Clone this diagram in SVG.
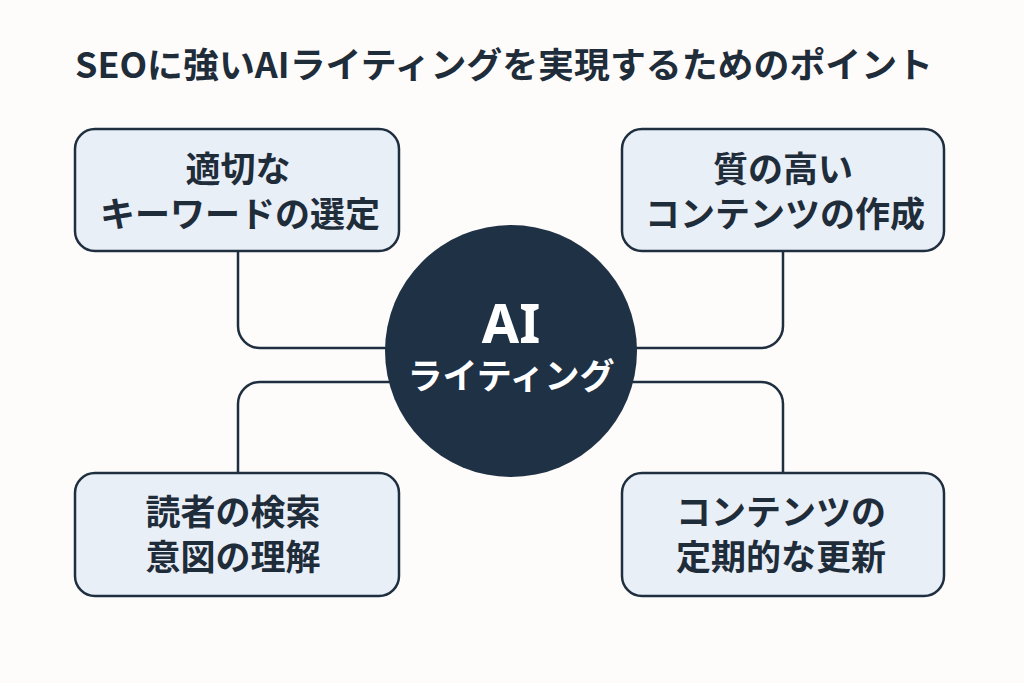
<svg xmlns="http://www.w3.org/2000/svg" width="1024" height="683" viewBox="0 0 1024 683">
<style>
text{font-family:"Noto Sans CJK JP","Noto Sans",sans-serif;font-weight:700;text-anchor:middle;fill:#1f2c3a}
.box{fill:#e9eff6;stroke:#1f2f40;stroke-width:2.5}
.l{fill:none;stroke:#1f2f40;stroke-width:2.5}
.t{font-size:35px}
</style>
<rect width="1024" height="683" fill="#fefcfb"/>
<text x="504" y="78" font-size="35" textLength="858" lengthAdjust="spacingAndGlyphs">SEOに強いAIライティングを実現するためのポイント</text>
<g id="connectors">
<path class="l" d="M238 251V326a22 22 0 0 0 22 22H390"/>
<path class="l" d="M783 251V326a22 22 0 0 1 -22 22H632"/>
<path class="l" d="M238 473V404a22 22 0 0 1 22 -22H390"/>
<path class="l" d="M783 473V404a22 22 0 0 0 -22 -22H632"/>
</g>
<g id="node-keyword"><rect class="box" x="75" y="129" width="324" height="122" rx="20"/><text class="t" x="238" y="182">適切な</text><text class="t" x="240" y="227">キーワードの選定</text></g>
<g id="node-quality"><rect class="box" x="622" y="129" width="322" height="122" rx="20"/><text class="t" x="783" y="182">質の高い</text><text class="t" x="785" y="227">コンテンツの作成</text></g>
<g id="node-intent"><rect class="box" x="75" y="473" width="324" height="123" rx="20"/><text class="t" x="233" y="525">読者の検索</text><text class="t" x="233" y="570">意図の理解</text></g>
<g id="node-update"><rect class="box" x="622" y="473" width="322" height="123" rx="20"/><text class="t" x="781" y="525">コンテンツの</text><text class="t" x="781" y="570">定期的な更新</text></g>
<g id="node-center"><circle cx="511" cy="351" r="126" fill="#1f3145"/><text x="511" y="343" font-size="54" style="fill:#fff;font-family:'Noto Sans','Noto Sans CJK JP',sans-serif">AI</text><text x="511" y="389" font-size="35" style="fill:#fff">ライティング</text></g>
</svg>
